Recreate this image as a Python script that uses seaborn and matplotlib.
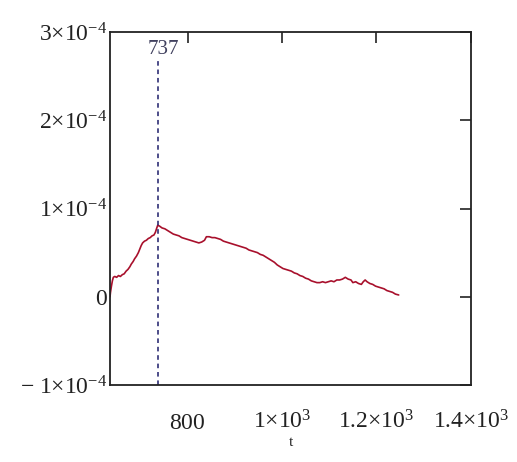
import numpy as np
import pandas as pd
import matplotlib
matplotlib.use("Agg")
import matplotlib.pyplot as plt
import seaborn as sns

# values (y in units of 1e-4)
t_vals = [636, 637, 639, 641, 643, 646, 650, 654, 658, 662, 666, 670, 674, 678, 681,
          685, 688, 692, 696, 699, 702, 705, 709, 713, 717, 721, 725, 729, 732, 735,
          737, 741, 746, 752, 758, 764, 770, 776, 782, 788, 794, 800, 806, 812, 818,
          824, 830, 836, 840, 846, 852, 858, 864, 870, 876, 882, 888, 894, 900, 906,
          912, 918, 924, 930, 936, 942, 948, 954, 960, 966, 972, 978, 984, 990, 996,
          1002, 1008, 1014, 1020, 1026, 1032, 1038, 1044, 1050, 1056, 1062, 1068, 1074,
          1080, 1086, 1092, 1098, 1104, 1110, 1116, 1122, 1128, 1134, 1140, 1146, 1150,
          1156, 1162, 1168, 1172, 1176, 1180, 1186, 1192, 1198, 1204, 1210, 1216, 1222,
          1228, 1234, 1240, 1247]
y_e4 = [0.00, 0.05, 0.12, 0.18, 0.22, 0.23, 0.22, 0.24, 0.23, 0.25, 0.26, 0.29, 0.31, 0.34, 0.37,
        0.40, 0.43, 0.46, 0.50, 0.54, 0.58, 0.61, 0.63, 0.64, 0.66, 0.67, 0.69, 0.70, 0.73, 0.78,
        0.81, 0.80, 0.78, 0.77, 0.75, 0.73, 0.71, 0.70, 0.69, 0.67, 0.66, 0.65, 0.64, 0.63, 0.62,
        0.61, 0.62, 0.64, 0.68, 0.68, 0.67, 0.67, 0.66, 0.65, 0.63, 0.62, 0.61, 0.60, 0.59, 0.58,
        0.57, 0.56, 0.55, 0.53, 0.52, 0.51, 0.50, 0.48, 0.47, 0.45, 0.43, 0.41, 0.39, 0.36, 0.34,
        0.32, 0.31, 0.30, 0.29, 0.27, 0.26, 0.24, 0.23, 0.21, 0.20, 0.18, 0.17, 0.16,
        0.16, 0.17, 0.16, 0.17, 0.18, 0.17, 0.19, 0.19, 0.20, 0.22, 0.20, 0.19, 0.16,
        0.17, 0.15, 0.14, 0.17, 0.19, 0.17, 0.15, 0.14, 0.12, 0.11, 0.10, 0.09, 0.07,
        0.06, 0.05, 0.03, 0.02]
marker_t = 737

x_ticks = [800, 1000, 1200, 1400]
x_labels = [r"$800$", r"$1{\times}10^{3}$", r"$1.2{\times}10^{3}$", r"$1.4{\times}10^{3}$"]
y_ticks = [-1e-4, 0, 1e-4, 2e-4, 3e-4]
y_labels = [r"$-\ 1{\times}10^{-4}$", "0", r"$1{\times}10^{-4}$", r"$2{\times}10^{-4}$",
            r"$3{\times}10^{-4}$"]

df = pd.DataFrame({"t": t_vals, "y": np.array(y_e4) * 1e-4})

sns.set_theme(style="white")
plt.rcParams['font.family'] = ['Liberation Serif', 'DejaVu Serif']
plt.rcParams['mathtext.fontset'] = 'custom'
plt.rcParams['mathtext.rm'] = 'Liberation Serif'
plt.rcParams['mathtext.it'] = 'Liberation Serif:italic'

fig = plt.figure(figsize=(5.17, 4.62), dpi=100)
ax = fig.add_axes([0.2128, 0.1667, 0.6982, 0.7640])

sns.lineplot(data=df, x="t", y="y", ax=ax, color="#a8102c", linewidth=1.2)
ax.axvline(marker_t, ymax=0.92, color="#1c1c6a", linestyle=(0, (3, 2.5)), linewidth=1.1)
ax.text(marker_t + 12, 2.8e-4, str(marker_t), ha="center", va="center",
        fontsize=15, color="#40405e")

ax.set_xlim(636, 1400)
ax.set_ylim(-1e-4, 3e-4)
ax.set_xticks(x_ticks)
ax.set_xticklabels(x_labels)
ax.set_yticks(y_ticks)
ax.set_yticklabels(y_labels)
ax.tick_params(direction="in", length=8, width=1.2, top=True, right=True,
               labelsize=17, colors="#222222")
ax.tick_params(axis="x", pad=35)
ax.tick_params(axis="y", pad=2)
for lbl in ax.get_xticklabels():
    lbl.set_va("bottom")
for s in ax.spines.values():
    s.set_color("#222222")
    s.set_linewidth(1.3)

ax.set_xlabel("t", fontsize=11)
ax.xaxis.set_label_coords(0.5, -0.145)
ax.set_ylabel("")

fig.savefig("out.png", dpi=100)
